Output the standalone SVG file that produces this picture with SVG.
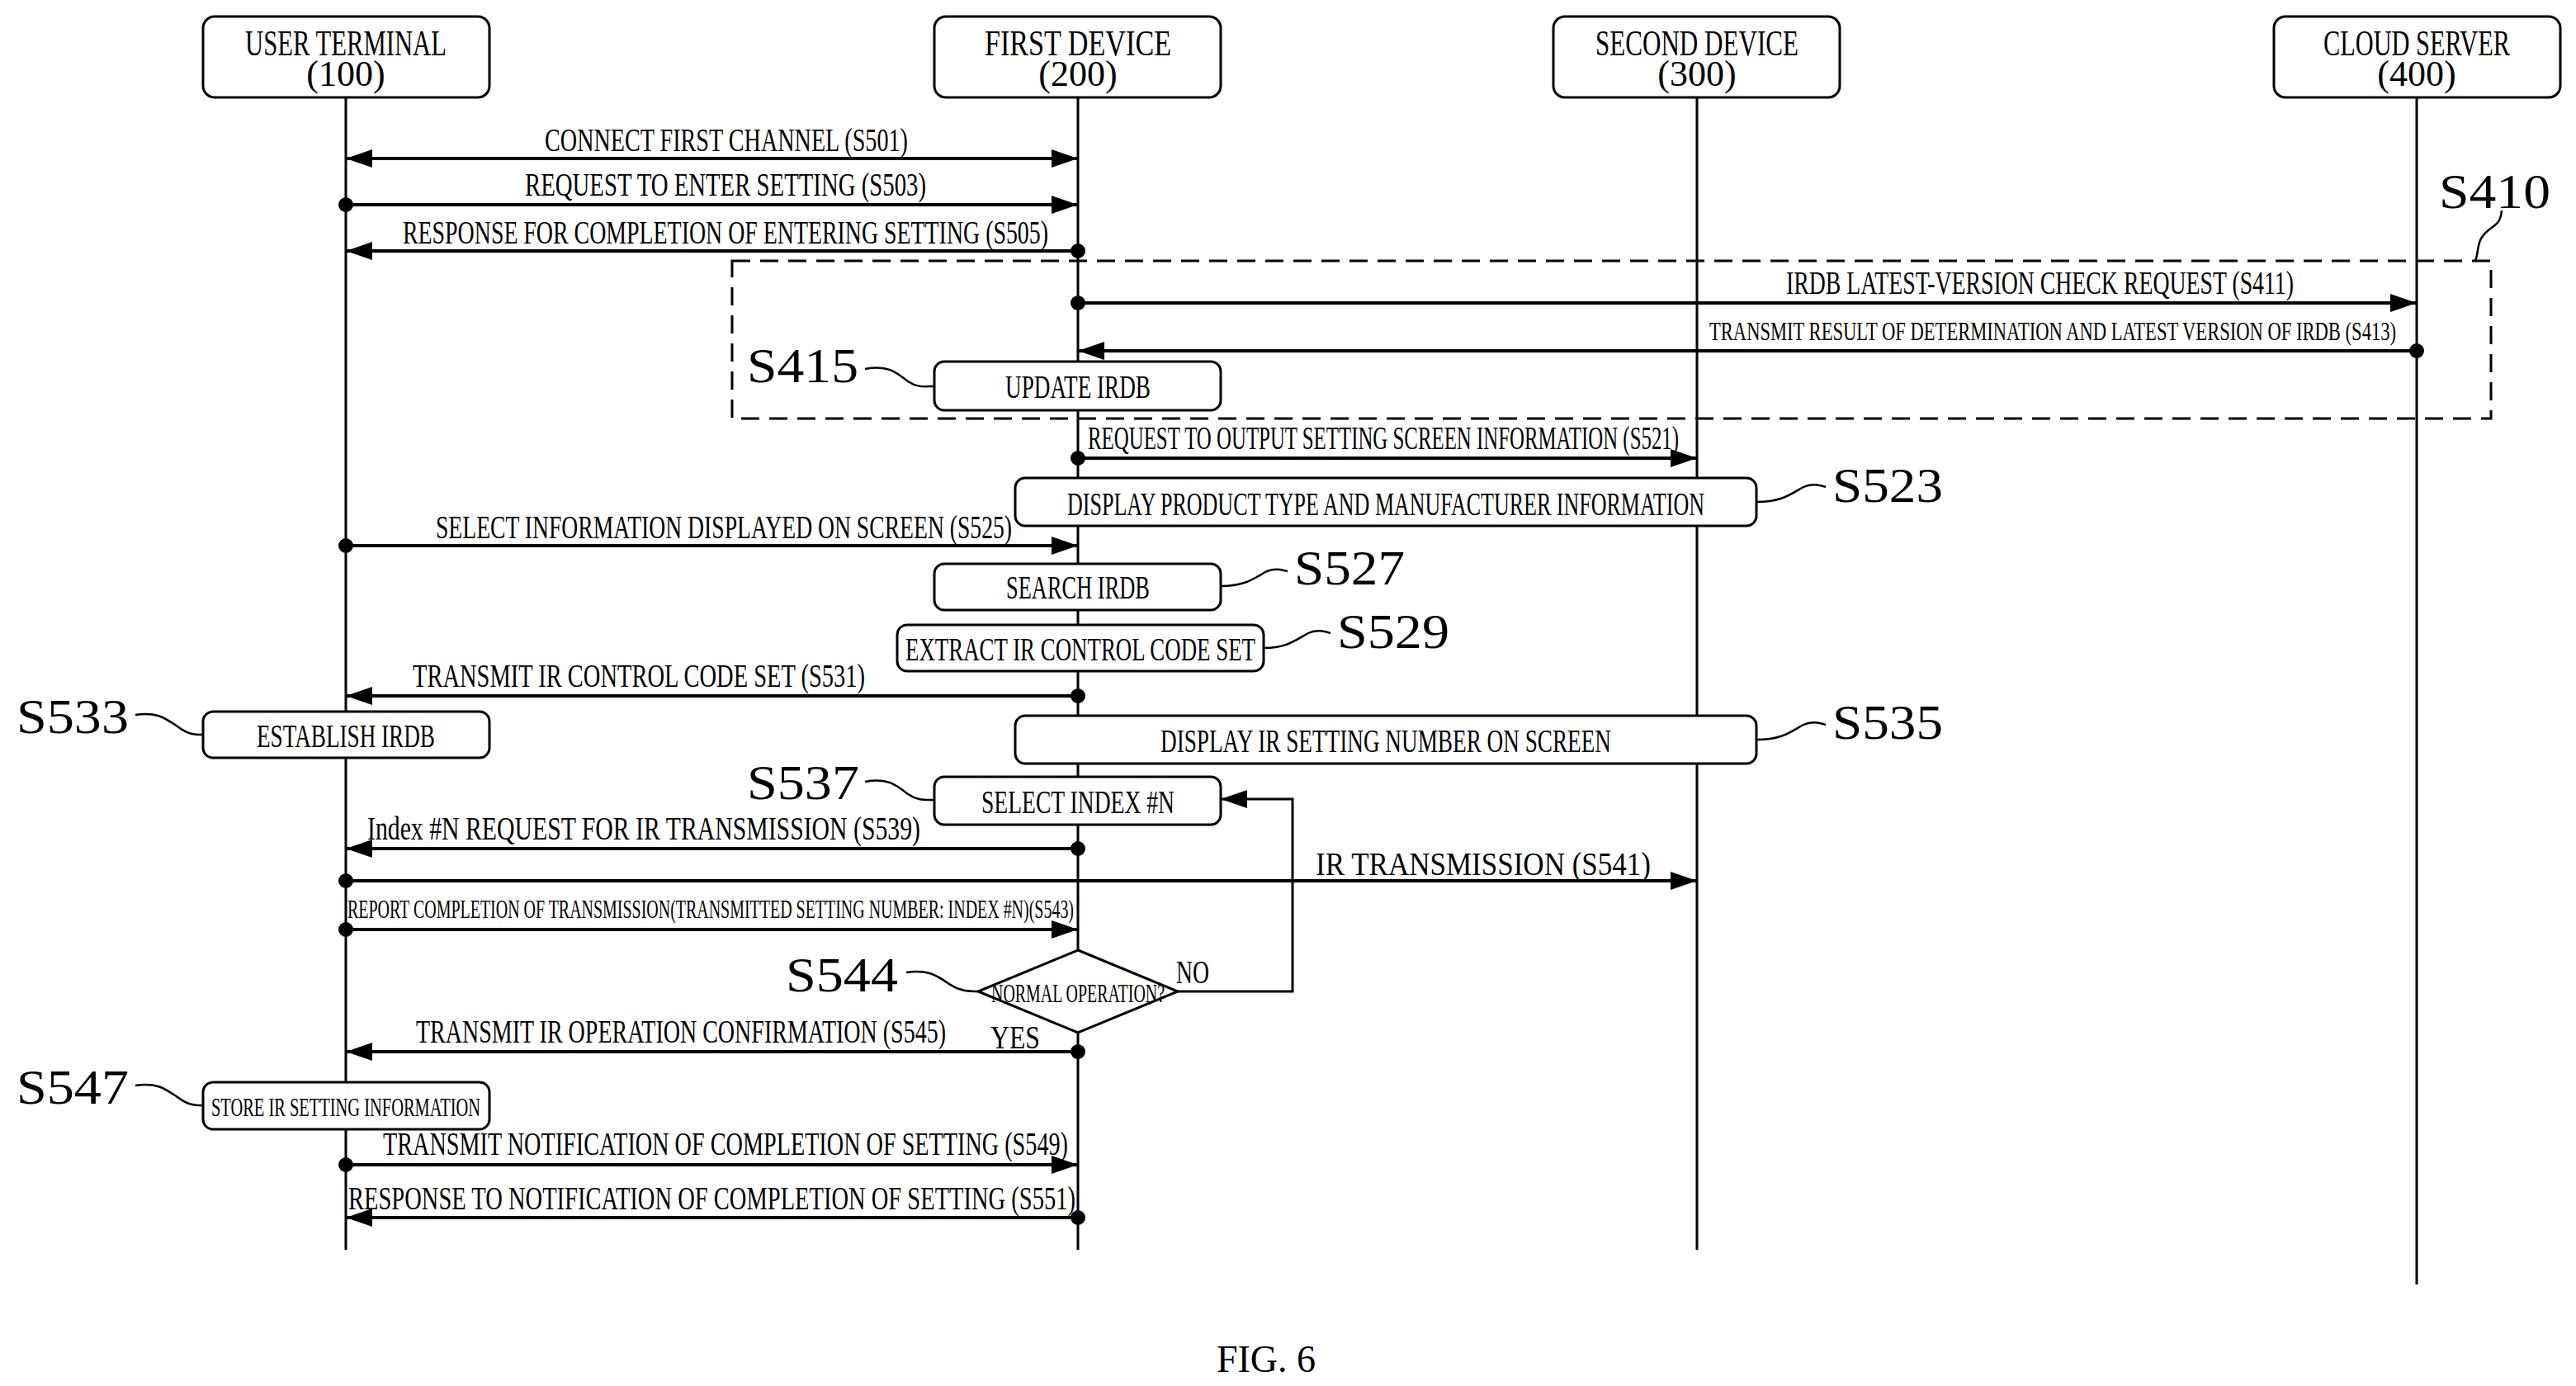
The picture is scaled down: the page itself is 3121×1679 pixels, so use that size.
<svg xmlns="http://www.w3.org/2000/svg" width="3121" height="1679" viewBox="0 0 3121 1679">
<style>
.bg{fill:#fff}
.box{fill:#fff;stroke:#000;stroke-width:3}
.life{stroke:#000;stroke-width:3;fill:none}
.msg{stroke:#000;stroke-width:4;fill:none}
.dash{stroke:#000;stroke-width:3;fill:none;stroke-dasharray:22 12}
.lead{stroke:#000;stroke-width:2.5;fill:none}
text{font-family:"Liberation Serif","DejaVu Serif",serif;fill:#000}
.h{font-size:44px;text-anchor:middle}
.m{font-size:40px}
.s{font-size:32px}
.st{font-size:60px}
</style>
<defs>
<marker id="ar" markerUnits="userSpaceOnUse" markerWidth="34" markerHeight="24" refX="32" refY="12" orient="auto-start-reverse">
<path d="M0,1 L32,12 L0,23 Z" fill="#000"/>
</marker>
</defs>
<rect class="bg" width="3121" height="1679"/>

<g id="lifelines">
<line class="life" x1="419" y1="118" x2="419" y2="1514"/>
<line class="life" x1="1306" y1="118" x2="1306" y2="1514"/>
<line class="life" x1="2056" y1="118" x2="2056" y2="1514"/>
<line class="life" x1="2928" y1="118" x2="2928" y2="1556"/>
</g>

<g id="n100"><rect class="box" x="246" y="20" width="347" height="98" rx="14"/><text class="h" x="419" y="67" textLength="244" lengthAdjust="spacingAndGlyphs">USER TERMINAL</text><text class="h" x="419" y="104">(100)</text></g>
<g id="n200"><rect class="box" x="1132" y="20" width="347" height="98" rx="14"/><text class="h" x="1306" y="67" textLength="226" lengthAdjust="spacingAndGlyphs">FIRST DEVICE</text><text class="h" x="1306" y="104">(200)</text></g>
<g id="n300"><rect class="box" x="1882" y="20" width="347" height="98" rx="14"/><text class="h" x="2056" y="67" textLength="246" lengthAdjust="spacingAndGlyphs">SECOND DEVICE</text><text class="h" x="2056" y="104">(300)</text></g>
<g id="n400"><rect class="box" x="2755" y="20" width="347" height="98" rx="14"/><text class="h" x="2928" y="67" textLength="226" lengthAdjust="spacingAndGlyphs">CLOUD SERVER</text><text class="h" x="2928" y="104">(400)</text></g>

<g id="s410">
<rect class="dash" x="887" y="316" width="2131" height="191"/>
<path class="lead" d="M2999,316 C3005,300 2998,290 3020,275 C3030,268 3030,262 3031,255"/>
<text class="st" x="2955" y="252" textLength="135" lengthAdjust="spacingAndGlyphs">S410</text>
</g>

<g id="connectors">
<line class="msg" x1="419" y1="192" x2="1306" y2="192" marker-start="url(#ar)" marker-end="url(#ar)"/>
<line class="msg" x1="419" y1="248" x2="1306" y2="248" marker-end="url(#ar)"/>
<line class="msg" x1="1306" y1="304" x2="419" y2="304" marker-end="url(#ar)"/>
<line class="msg" x1="1306" y1="367" x2="2928" y2="367" marker-end="url(#ar)"/>
<line class="msg" x1="2928" y1="425" x2="1306" y2="425" marker-end="url(#ar)"/>
<line class="msg" x1="1306" y1="555" x2="2056" y2="555" marker-end="url(#ar)"/>
<line class="msg" x1="419" y1="661" x2="1306" y2="661" marker-end="url(#ar)"/>
<line class="msg" x1="1306" y1="843" x2="419" y2="843" marker-end="url(#ar)"/>
<line class="msg" x1="1306" y1="1028" x2="419" y2="1028" marker-end="url(#ar)"/>
<line class="msg" x1="419" y1="1067" x2="2056" y2="1067" marker-end="url(#ar)"/>
<line class="msg" x1="419" y1="1126" x2="1306" y2="1126" marker-end="url(#ar)"/>
<polyline class="life" points="1427,1201 1566,1201 1566,968 1479,968" marker-end="url(#ar)"/>
<line class="msg" x1="1306" y1="1274" x2="419" y2="1274" marker-end="url(#ar)"/>
<line class="msg" x1="419" y1="1411" x2="1306" y2="1411" marker-end="url(#ar)"/>
<line class="msg" x1="1306" y1="1475" x2="419" y2="1475" marker-end="url(#ar)"/>
<g fill="#000">
<circle cx="419" cy="248" r="9"/><circle cx="1306" cy="304" r="9"/><circle cx="1306" cy="367" r="9"/>
<circle cx="2928" cy="425" r="9"/><circle cx="1306" cy="555" r="9"/><circle cx="419" cy="661" r="9"/>
<circle cx="1306" cy="843" r="9"/><circle cx="1306" cy="1028" r="9"/><circle cx="419" cy="1067" r="9"/>
<circle cx="419" cy="1126" r="9"/><circle cx="1306" cy="1274" r="9"/><circle cx="419" cy="1411" r="9"/>
<circle cx="1306" cy="1475" r="9"/>
</g>
<text class="m" x="660" y="183" textLength="440" lengthAdjust="spacingAndGlyphs">CONNECT FIRST CHANNEL (S501)</text>
<text class="m" x="636" y="237" textLength="486" lengthAdjust="spacingAndGlyphs">REQUEST TO ENTER SETTING (S503)</text>
<text class="m" x="488" y="295" textLength="782" lengthAdjust="spacingAndGlyphs">RESPONSE FOR COMPLETION OF ENTERING SETTING (S505)</text>
<text class="m" x="2164" y="356" textLength="615" lengthAdjust="spacingAndGlyphs">IRDB LATEST-VERSION CHECK REQUEST (S411)</text>
<text class="s" x="2071" y="412" textLength="832" lengthAdjust="spacingAndGlyphs">TRANSMIT RESULT OF DETERMINATION AND LATEST VERSION OF IRDB (S413)</text>
<text class="m" x="1318" y="544" textLength="716" lengthAdjust="spacingAndGlyphs">REQUEST TO OUTPUT SETTING SCREEN INFORMATION (S521)</text>
<text class="m" x="528" y="652" textLength="698" lengthAdjust="spacingAndGlyphs">SELECT INFORMATION DISPLAYED ON SCREEN (S525)</text>
<text class="m" x="500" y="832" textLength="548" lengthAdjust="spacingAndGlyphs">TRANSMIT IR CONTROL CODE SET (S531)</text>
<text class="m" x="445" y="1017" textLength="670" lengthAdjust="spacingAndGlyphs">Index #N REQUEST FOR IR TRANSMISSION (S539)</text>
<text class="m" x="1594" y="1060" textLength="406" lengthAdjust="spacingAndGlyphs">IR TRANSMISSION (S541)</text>
<text class="s" x="421" y="1112" textLength="880" lengthAdjust="spacingAndGlyphs">REPORT COMPLETION OF TRANSMISSION(TRANSMITTED SETTING NUMBER: INDEX #N)(S543)</text>
<text class="m" x="1425" y="1191" textLength="40" lengthAdjust="spacingAndGlyphs">NO</text>
<text class="m" x="1200" y="1270" textLength="60" lengthAdjust="spacingAndGlyphs">YES</text>
<text class="m" x="504" y="1263" textLength="642" lengthAdjust="spacingAndGlyphs">TRANSMIT IR OPERATION CONFIRMATION (S545)</text>
<text class="m" x="464" y="1399" textLength="830" lengthAdjust="spacingAndGlyphs">TRANSMIT NOTIFICATION OF COMPLETION OF SETTING (S549)</text>
<text class="m" x="422" y="1465" textLength="881" lengthAdjust="spacingAndGlyphs">RESPONSE TO NOTIFICATION OF COMPLETION OF SETTING (S551)</text>
</g>

<g id="s415"><rect class="box" x="1132" y="438" width="347" height="59" rx="12"/><text class="m" x="1306" y="482" text-anchor="middle" textLength="176" lengthAdjust="spacingAndGlyphs">UPDATE IRDB</text>
<path class="lead" d="M1048,447 C1075,442 1085,450 1100,462 C1112,470 1120,468 1132,468"/><text class="st" x="905" y="463" textLength="135" lengthAdjust="spacingAndGlyphs">S415</text></g>

<g id="s523"><rect class="box" x="1230" y="579" width="898" height="58" rx="12"/><text class="m" x="1679" y="624" text-anchor="middle" textLength="772" lengthAdjust="spacingAndGlyphs">DISPLAY PRODUCT TYPE AND MANUFACTURER INFORMATION</text>
<path class="lead" d="M2128,608 C2160,608 2170,598 2185,590 C2195,585 2205,588 2212,590"/><text class="st" x="2220" y="608" textLength="134" lengthAdjust="spacingAndGlyphs">S523</text></g>

<g id="s527"><rect class="box" x="1132" y="683" width="347" height="56" rx="12"/><text class="m" x="1306" y="725" text-anchor="middle" textLength="174" lengthAdjust="spacingAndGlyphs">SEARCH IRDB</text>
<path class="lead" d="M1479,710 C1510,710 1520,700 1535,692 C1545,688 1552,690 1560,692"/><text class="st" x="1568" y="708" textLength="134" lengthAdjust="spacingAndGlyphs">S527</text></g>

<g id="s529"><rect class="box" x="1087" y="757" width="444" height="56" rx="12"/><text class="m" x="1309" y="800" text-anchor="middle" textLength="424" lengthAdjust="spacingAndGlyphs">EXTRACT IR CONTROL CODE SET</text>
<path class="lead" d="M1531,785 C1560,785 1570,775 1585,767 C1595,762 1605,765 1612,767"/><text class="st" x="1620" y="785" textLength="136" lengthAdjust="spacingAndGlyphs">S529</text></g>

<g id="s533"><rect class="box" x="246" y="862" width="347" height="56" rx="12"/><text class="m" x="419" y="905" text-anchor="middle" textLength="216" lengthAdjust="spacingAndGlyphs">ESTABLISH IRDB</text>
<path class="lead" d="M164,866 C190,862 200,870 215,880 C228,890 236,890 246,890"/><text class="st" x="20" y="888" textLength="136" lengthAdjust="spacingAndGlyphs">S533</text></g>

<g id="s535"><rect class="box" x="1230" y="867" width="898" height="58" rx="12"/><text class="m" x="1679" y="911" text-anchor="middle" textLength="546" lengthAdjust="spacingAndGlyphs">DISPLAY IR SETTING NUMBER ON SCREEN</text>
<path class="lead" d="M2128,896 C2160,896 2170,886 2185,878 C2195,873 2205,876 2212,878"/><text class="st" x="2220" y="895" textLength="134" lengthAdjust="spacingAndGlyphs">S535</text></g>

<g id="s537"><rect class="box" x="1132" y="941" width="347" height="58" rx="12"/><text class="m" x="1306" y="985" text-anchor="middle" textLength="234" lengthAdjust="spacingAndGlyphs">SELECT INDEX #N</text>
<path class="lead" d="M1048,947 C1075,942 1085,950 1100,962 C1112,970 1120,969 1132,969"/><text class="st" x="905" y="968" textLength="136" lengthAdjust="spacingAndGlyphs">S537</text></g>

<g id="s544"><polygon class="box" points="1306,1151 1427,1201 1306,1251 1185,1201"/><text class="s" x="1306" y="1214" text-anchor="middle" textLength="210" lengthAdjust="spacingAndGlyphs">NORMAL OPERATION?</text>
<path class="lead" d="M1098,1178 C1125,1174 1135,1182 1150,1192 C1162,1200 1172,1201 1185,1201"/><text class="st" x="952" y="1201" textLength="136" lengthAdjust="spacingAndGlyphs">S544</text></g>

<g id="s547"><rect class="box" x="246" y="1311" width="347" height="57" rx="12"/><text class="s" x="419" y="1352" text-anchor="middle" textLength="326" lengthAdjust="spacingAndGlyphs">STORE IR SETTING INFORMATION</text>
<path class="lead" d="M164,1315 C190,1311 200,1319 215,1329 C228,1339 236,1339 246,1339"/><text class="st" x="20" y="1337" textLength="136" lengthAdjust="spacingAndGlyphs">S547</text></g>

<text x="1534" y="1662" font-size="46" text-anchor="middle">FIG. 6</text>
</svg>
